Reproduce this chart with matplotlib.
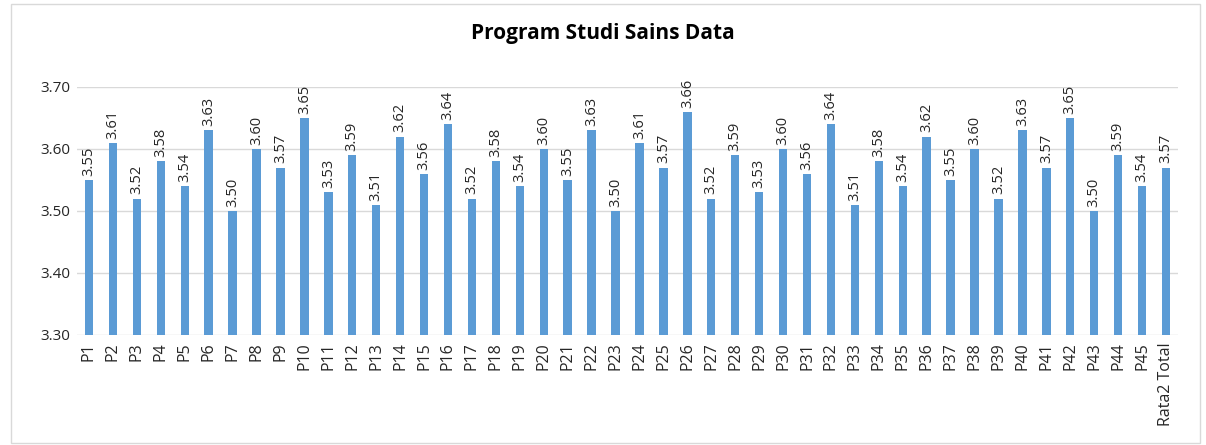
import matplotlib
matplotlib.use("Agg")
import matplotlib.pyplot as plt
from matplotlib.patches import Rectangle

categories = [f"P{i}" for i in range(1, 46)] + ["Rata2 Total"]
values = [3.55, 3.61, 3.52, 3.58, 3.54, 3.63, 3.50, 3.60, 3.57, 3.65,
          3.53, 3.59, 3.51, 3.62, 3.56, 3.64, 3.52, 3.58, 3.54, 3.60,
          3.55, 3.63, 3.50, 3.61, 3.57, 3.66, 3.52, 3.59, 3.53, 3.60,
          3.56, 3.64, 3.51, 3.58, 3.54, 3.62, 3.55, 3.60, 3.52, 3.63,
          3.57, 3.65, 3.50, 3.59, 3.54, 3.57]
yticks = [3.30, 3.40, 3.50, 3.60, 3.70]
title = "Program Studi Sains Data"

plt.rcParams['font.family'] = ['Open Sans', 'DejaVu Sans']

fig = plt.figure(figsize=(12.06, 4.45), dpi=100)
ax = fig.add_axes([77/1206, 1-335/445, (1178-77)/1206, (335-87)/445])

x = list(range(len(categories)))
ax.bar(x, [v - 3.30 for v in values], bottom=3.30, width=0.35, color="#5B9BD5", zorder=3)

for xi, v in zip(x, values):
    ax.annotate(f"{v:.2f}", (xi, v), xytext=(0, 3), textcoords="offset points",
                rotation=90, ha="center", va="bottom",
                fontsize=10.5, color="#262626", annotation_clip=False)

ax.set_ylim(3.30, 3.70)
ax.set_xlim(-0.5, len(categories) - 0.5)
ax.set_yticks(yticks)
ax.set_yticklabels([f"{t:.2f}" for t in yticks], fontsize=11, color="#262626")
ax.set_xticks(x)
ax.set_xticklabels(categories, rotation=90, fontsize=11.5, color="#262626")
ax.tick_params(axis="both", length=0, pad=5)
ax.grid(axis="y", color="#D9D9D9", linewidth=1, zorder=0)
for s in ax.spines.values():
    s.set_visible(False)

fig.text(0.5, 1-33/445, title, ha="center", va="center", fontsize=15,
         fontweight="bold", color="#000000")

fig.patches.append(Rectangle((11/1206, 2/445), (1200-11)/1206, (441-2)/445,
                             transform=fig.transFigure, fill=False,
                             edgecolor="#D9D9D9", linewidth=1))

fig.savefig("out.png", dpi=100)
